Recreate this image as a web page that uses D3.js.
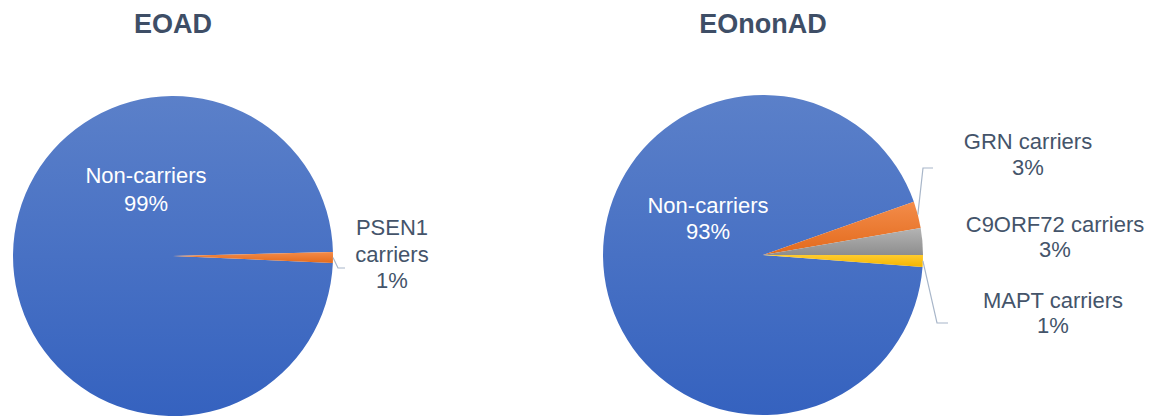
<!DOCTYPE html>
<html>
<head>
<meta charset="utf-8">
<script src="https://cdn.jsdelivr.net/npm/d3@7"></script>
<style>
  body { margin: 0; background: #fff; }
  text { font-family: "Liberation Sans", Arial, sans-serif; }
</style>
</head>
<body>
<div id="chart"></div>
<script>
// data
const eoadLabels = ["Non-carriers", "PSEN1 carriers"];
const eoadValues = [98.9, 1.1];
const eononadLabels = ["Non-carriers", "GRN carriers", "C9ORF72 carriers", "MAPT carriers"];
const eononadValues = [93.4, 2.7, 2.7, 1.2];
const titles = ["EOAD", "EOnonAD"];

function main() {
    const width = 1164, height = 418;
    const svg = d3.select("#chart")
        .append("svg")
        .attr("width", width)
        .attr("height", height);

    // gradients, light on top, darker below
    const colors = {
        blue: ["#5b80c9", "#3562bf"],
        orange: ["#f38c4a", "#e36a1c"],
        gray: ["#b4b4b4", "#8e8e8e"],
        yellow: ["#ffcc2e", "#f4b400"]
    };
    const defs = svg.append("defs");
    Object.entries(colors).forEach(([k, c]) => {
        const g = defs.append("linearGradient")
            .attr("id", "grad-" + k)
            .attr("x1", 0).attr("y1", 0).attr("x2", 0).attr("y2", 1);
        g.append("stop").attr("offset", "0%").attr("stop-color", c[0]);
        g.append("stop").attr("offset", "100%").attr("stop-color", c[1]);
    });

    const radius = 160;
    const arc = d3.arc().innerRadius(0).outerRadius(radius);
    const deg = Math.PI / 180;
    const titleColor = "#3e4e66", labelColor = "#44546a", lineColor = "#a8b6c9";

    function drawPie(cfg) {
        const g = svg.append("g")
            .attr("transform", `translate(${cfg.cx}, ${cfg.cy})`);

        const pie = d3.pie().sort(null).value(d => d)
            .startAngle(cfg.start * deg)
            .endAngle(cfg.start * deg + 2 * Math.PI);
        const arcs = pie(cfg.values);

        g.selectAll("path")
            .data(arcs)
            .enter()
            .append("path")
            .attr("d", arc)
            .attr("fill", (d, i) => `url(#grad-${cfg.fills[i]})`);

        // title
        svg.append("text")
            .attr("x", cfg.cx)
            .attr("y", 33)
            .attr("text-anchor", "middle")
            .attr("fill", titleColor)
            .style("font-size", "27px")
            .style("font-weight", "bold")
            .text(cfg.title);

        // label lines
        cfg.labels.forEach((lab, i) => {
            const d = arcs[i];
            const pct = Math.round(cfg.values[i]) + "%";
            const lines = lab.lines.concat([pct]);
            const t = g.append("text")
                .attr("text-anchor", "middle")
                .attr("fill", i === 0 ? "#ffffff" : labelColor)
                .style("font-size", "22px");
            lines.forEach((s, j) => {
                t.append("tspan")
                    .attr("x", lab.x)
                    .attr("y", lab.y + j * lab.lh)
                    .text(s);
            });

            if (lab.leader) {
                const mid = (d.startAngle + d.endAngle) / 2;
                const p0 = [Math.sin(mid) * radius, -Math.cos(mid) * radius];
                const pts = [p0].concat(lab.leader);
                g.append("path")
                    .attr("d", d3.line()(pts))
                    .attr("fill", "none")
                    .attr("stroke", lineColor)
                    .attr("stroke-width", 1.2);
            }
        });
    }

    drawPie({
        title: titles[0],
        cx: 173, cy: 256, start: 92.5,
        values: eoadValues,
        fills: ["blue", "orange"],
        labels: [
            {lines: ["Non-carriers"], x: -27, y: -73, lh: 28},
            {lines: ["PSEN1", "carriers"], x: 219, y: -21, lh: 26.5,
             leader: [[165, 12], [172, 12]]}
        ]
    });

    drawPie({
        title: titles[1],
        cx: 763, cy: 255, start: 94.3,
        values: eononadValues,
        fills: ["blue", "orange", "gray", "yellow"],
        labels: [
            {lines: ["Non-carriers"], x: -55, y: -42, lh: 26},
            {lines: ["GRN carriers"], x: 265, y: -106, lh: 26,
             leader: [[160, -87], [170, -87]]},
            {lines: ["C9ORF72 carriers"], x: 292, y: -23, lh: 25},
            {lines: ["MAPT carriers"], x: 290, y: 53, lh: 25,
             leader: [[174, 68], [185, 68]]}
        ]
    });
}

main()
</script>
</body>
</html>
